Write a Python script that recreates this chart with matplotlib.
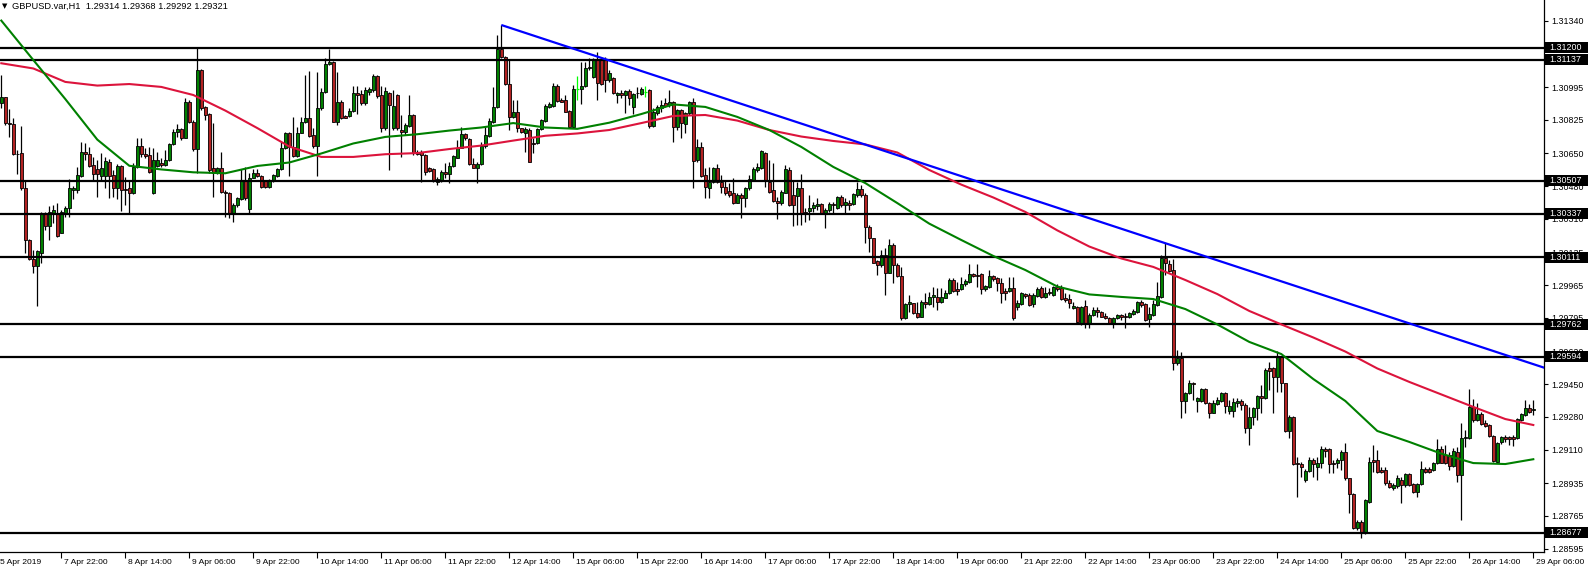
import numpy as np
import matplotlib
matplotlib.use("Agg")
import matplotlib.pyplot as plt
from matplotlib.patches import Rectangle
from matplotlib.transforms import blended_transform_factory

plt.rcParams['font.family'] = ['Liberation Sans', 'DejaVu Sans']

# GBPUSD H1 candles (oldest first)
opens = [
    1.30914, 1.30942, 1.30806, 1.30801, 1.30647, 1.30650, 1.30468, 1.30199, 1.30099, 1.30064,
    1.30134, 1.30335, 1.30272, 1.30338, 1.30338, 1.30238, 1.30338, 1.30369, 1.30460, 1.30460,
    1.30534, 1.30656, 1.30645, 1.30590, 1.30569, 1.30534, 1.30534, 1.30607, 1.30538, 1.30468,
    1.30584, 1.30463, 1.30468, 1.30446, 1.30581, 1.30689, 1.30645, 1.30640, 1.30442, 1.30586,
    1.30602, 1.30590, 1.30616, 1.30697, 1.30760, 1.30777, 1.30732, 1.30916, 1.30815, 1.30671,
    1.31084, 1.30890, 1.30853, 1.30572, 1.30546, 1.30574, 1.30451, 1.30446, 1.30333, 1.30382,
    1.30413, 1.30508, 1.30361, 1.30525, 1.30546, 1.30534, 1.30508, 1.30477, 1.30508, 1.30534,
    1.30567, 1.30676, 1.30754, 1.30685, 1.30637, 1.30758, 1.30812, 1.30832, 1.30746, 1.30690,
    1.30884, 1.30968, 1.31113, 1.31127, 1.30815, 1.30916, 1.30845, 1.30846, 1.30871, 1.30962,
    1.30957, 1.30910, 1.30971, 1.30980, 1.31053, 1.30954, 1.30780, 1.30962, 1.30780, 1.30954,
    1.30772, 1.30763, 1.30794, 1.30850, 1.30659, 1.30659, 1.30642, 1.30572, 1.30569, 1.30503,
    1.30512, 1.30555, 1.30541, 1.30586, 1.30628, 1.30680, 1.30751, 1.30725, 1.30595, 1.30576,
    1.30595, 1.30690, 1.30742, 1.30815, 1.30890, 1.31191, 1.31153, 1.31009, 1.30841, 1.30864,
    1.30780, 1.30754, 1.30772, 1.30706, 1.30702, 1.30777, 1.30819, 1.30893, 1.30898, 1.31001,
    1.30928, 1.30928, 1.30871, 1.30789, 1.30985, 1.30985, 1.31001, 1.31093, 1.31049, 1.31139,
    1.31136, 1.31136, 1.31032, 1.31042, 1.30956, 1.30966, 1.30954, 1.30975, 1.30893, 1.30963,
    1.30959, 1.30971, 1.30980, 1.30794, 1.30859, 1.30885, 1.30914, 1.30902, 1.30919, 1.30789,
    1.30876, 1.30803, 1.30859, 1.30919, 1.30616, 1.30682, 1.30538, 1.30468, 1.30503, 1.30572,
    1.30503, 1.30474, 1.30455, 1.30442, 1.30394, 1.30434, 1.30416, 1.30468, 1.30512, 1.30564,
    1.30572, 1.30654, 1.30503, 1.30460, 1.30402, 1.30390, 1.30446, 1.30564, 1.30434, 1.30428,
    1.30468, 1.30347, 1.30352, 1.30364, 1.30376, 1.30387, 1.30338, 1.30356, 1.30387, 1.30364,
    1.30425, 1.30382, 1.30390, 1.30387, 1.30434, 1.30465, 1.30434, 1.30269, 1.30208, 1.30090,
    1.30069, 1.30121, 1.30030, 1.30174, 1.30069, 1.30014, 1.29792, 1.29867, 1.29870, 1.29821,
    1.29801, 1.29879, 1.29867, 1.29905, 1.29905, 1.29879, 1.29901, 1.29922, 1.29992, 1.29944,
    1.29944, 1.29971, 1.29983, 1.30023, 1.30018, 1.30023, 1.29943, 1.29957, 1.30012, 1.30000,
    1.29974, 1.29936, 1.29936, 1.29948, 1.29853, 1.29867, 1.29918, 1.29914, 1.29867, 1.29908,
    1.29948, 1.29905, 1.29931, 1.29914, 1.29957, 1.29948, 1.29896, 1.29891, 1.29849, 1.29853,
    1.29771, 1.29856, 1.29766, 1.29810, 1.29836, 1.29825, 1.29806, 1.29792, 1.29766, 1.29796,
    1.29810, 1.29806, 1.29801, 1.29815, 1.29825, 1.29879, 1.29867, 1.29787, 1.29810, 1.29862,
    1.29905, 1.30104, 1.30075, 1.30044, 1.29558, 1.29584, 1.29364, 1.29402, 1.29454, 1.29364,
    1.29364, 1.29423, 1.29353, 1.29301, 1.29347, 1.29364, 1.29406, 1.29312, 1.29312, 1.29354,
    1.29364, 1.29342, 1.29220, 1.29281, 1.29324, 1.29389, 1.29376, 1.29533, 1.29533, 1.29489,
    1.29593, 1.29454, 1.29208, 1.29278, 1.29042, 1.29035, 1.28954, 1.29000, 1.29056, 1.29021,
    1.29042, 1.29111, 1.29111, 1.29042, 1.29042, 1.29056, 1.29099, 1.28960, 1.28879, 1.28700,
    1.28735, 1.28674, 1.28839, 1.29056, 1.29056, 1.29004, 1.29004, 1.28937, 1.28908, 1.28920,
    1.28954, 1.28925, 1.28983, 1.28931, 1.28891, 1.28931, 1.29007, 1.29007, 1.29004, 1.29038,
    1.29111, 1.29082, 1.29082, 1.29024, 1.29099, 1.28977, 1.29168, 1.29168, 1.29330, 1.29264,
    1.29295, 1.29246, 1.29238, 1.29180, 1.29047, 1.29151, 1.29177, 1.29174, 1.29174, 1.29168,
    1.29264, 1.29290, 1.29324, 1.29314,
]
highs = [
    1.31058, 1.30945, 1.30879, 1.30832, 1.30668, 1.30793, 1.30512, 1.30203, 1.30147, 1.30150,
    1.30347, 1.30347, 1.30376, 1.30382, 1.30394, 1.30356, 1.30376, 1.30515, 1.30480, 1.30581,
    1.30708, 1.30706, 1.30685, 1.30633, 1.30616, 1.30650, 1.30633, 1.30619, 1.30564, 1.30595,
    1.30590, 1.30529, 1.30508, 1.30598, 1.30732, 1.30732, 1.30676, 1.30685, 1.30680, 1.30659,
    1.30624, 1.30668, 1.30702, 1.30777, 1.30803, 1.30780, 1.30936, 1.30928, 1.30824, 1.31205,
    1.31087, 1.30897, 1.30858, 1.30806, 1.30581, 1.30659, 1.30460, 1.30451, 1.30390, 1.30425,
    1.30567, 1.30581, 1.30546, 1.30567, 1.30567, 1.30538, 1.30512, 1.30515, 1.30541, 1.30572,
    1.30711, 1.30763, 1.30763, 1.30841, 1.30789, 1.30838, 1.31058, 1.31079, 1.30780, 1.31075,
    1.30988, 1.31145, 1.31191, 1.31131, 1.31075, 1.30928, 1.30850, 1.30884, 1.31002, 1.31002,
    1.30980, 1.30997, 1.30997, 1.31061, 1.31058, 1.31002, 1.30997, 1.30971, 1.30980, 1.30957,
    1.30850, 1.30806, 1.30954, 1.30853, 1.30668, 1.30668, 1.30645, 1.30581, 1.30572, 1.30529,
    1.30564, 1.30598, 1.30607, 1.30642, 1.30720, 1.30789, 1.30754, 1.30728, 1.30624, 1.30607,
    1.30711, 1.30789, 1.30832, 1.30997, 1.31266, 1.31318, 1.31158, 1.31136, 1.30928, 1.30928,
    1.30784, 1.30789, 1.30780, 1.30728, 1.30784, 1.30829, 1.30905, 1.30916, 1.31014, 1.31009,
    1.30936, 1.30954, 1.30876, 1.31006, 1.31053, 1.31127, 1.31127, 1.31145, 1.31148, 1.31179,
    1.31153, 1.31153, 1.31084, 1.31050, 1.30971, 1.30980, 1.30980, 1.30983, 1.30963, 1.30997,
    1.30997, 1.31001, 1.30983, 1.30885, 1.30902, 1.30928, 1.30937, 1.30980, 1.30924, 1.30879,
    1.30879, 1.30867, 1.30924, 1.30937, 1.30723, 1.30711, 1.30572, 1.30578, 1.30578, 1.30595,
    1.30538, 1.30512, 1.30494, 1.30520, 1.30442, 1.30442, 1.30477, 1.30538, 1.30578, 1.30598,
    1.30668, 1.30659, 1.30616, 1.30602, 1.30425, 1.30460, 1.30590, 1.30578, 1.30512, 1.30503,
    1.30543, 1.30364, 1.30434, 1.30399, 1.30416, 1.30390, 1.30364, 1.30399, 1.30399, 1.30428,
    1.30434, 1.30416, 1.30408, 1.30442, 1.30503, 1.30486, 1.30442, 1.30278, 1.30213, 1.30095,
    1.30147, 1.30156, 1.30203, 1.30182, 1.30078, 1.30061, 1.29870, 1.29913, 1.29873, 1.29879,
    1.29888, 1.29922, 1.29931, 1.29957, 1.29948, 1.29948, 1.29940, 1.30000, 1.30000, 1.29983,
    1.30009, 1.29995, 1.30075, 1.30030, 1.30075, 1.30026, 1.29966, 1.30044, 1.30018, 1.30006,
    1.30000, 1.29948, 1.30009, 1.30009, 1.29888, 1.29931, 1.29926, 1.29922, 1.29922, 1.29957,
    1.29960, 1.29957, 1.29948, 1.29960, 1.29971, 1.29966, 1.29922, 1.29918, 1.29879, 1.29856,
    1.29856, 1.29888, 1.29818, 1.29853, 1.29853, 1.29832, 1.29818, 1.29798, 1.29798, 1.29815,
    1.29815, 1.29818, 1.29825, 1.29839, 1.29884, 1.29888, 1.29870, 1.29853, 1.29888, 1.29983,
    1.30122, 1.30182, 1.30096, 1.30099, 1.29627, 1.29619, 1.29411, 1.29471, 1.29463, 1.29385,
    1.29428, 1.29428, 1.29359, 1.29367, 1.29385, 1.29411, 1.29411, 1.29368, 1.29376, 1.29376,
    1.29371, 1.29350, 1.29330, 1.29333, 1.29394, 1.29446, 1.29533, 1.29567, 1.29541, 1.29624,
    1.29597, 1.29458, 1.29290, 1.29285, 1.29073, 1.29047, 1.29007, 1.29073, 1.29064, 1.29073,
    1.29128, 1.29125, 1.29116, 1.29056, 1.29064, 1.29108, 1.29146, 1.28965, 1.28882, 1.28743,
    1.28743, 1.28851, 1.29073, 1.29134, 1.29108, 1.29021, 1.29021, 1.28951, 1.28937, 1.28977,
    1.28969, 1.28986, 1.28986, 1.28937, 1.28937, 1.29053, 1.29021, 1.29021, 1.29047, 1.29163,
    1.29128, 1.29134, 1.29099, 1.29116, 1.29125, 1.29246, 1.29212, 1.29423, 1.29371, 1.29350,
    1.29307, 1.29264, 1.29243, 1.29186, 1.29151, 1.29180, 1.29186, 1.29180, 1.29186, 1.29272,
    1.29302, 1.29368, 1.29347, 1.29368,
]
lows = [
    1.30884, 1.30798, 1.30737, 1.30642, 1.30543, 1.30460, 1.30130, 1.30095, 1.30030, 1.29858,
    1.30082, 1.30252, 1.30199, 1.30286, 1.30215, 1.30234, 1.30321, 1.30321, 1.30411, 1.30446,
    1.30530, 1.30616, 1.30581, 1.30512, 1.30425, 1.30512, 1.30468, 1.30420, 1.30425, 1.30411,
    1.30350, 1.30382, 1.30338, 1.30439, 1.30572, 1.30633, 1.30624, 1.30546, 1.30439, 1.30581,
    1.30581, 1.30584, 1.30612, 1.30694, 1.30734, 1.30720, 1.30728, 1.30810, 1.30664, 1.30550,
    1.30876, 1.30824, 1.30546, 1.30425, 1.30543, 1.30446, 1.30321, 1.30312, 1.30295, 1.30373,
    1.30408, 1.30408, 1.30335, 1.30520, 1.30529, 1.30473, 1.30468, 1.30473, 1.30503, 1.30529,
    1.30564, 1.30671, 1.30534, 1.30633, 1.30633, 1.30754, 1.30806, 1.30737, 1.30676, 1.30534,
    1.30876, 1.30962, 1.31110, 1.30812, 1.30798, 1.30829, 1.30832, 1.30841, 1.30864, 1.30853,
    1.30902, 1.30902, 1.30954, 1.30971, 1.30936, 1.30763, 1.30772, 1.30564, 1.30772, 1.30772,
    1.30633, 1.30746, 1.30789, 1.30642, 1.30642, 1.30503, 1.30538, 1.30555, 1.30503, 1.30486,
    1.30503, 1.30520, 1.30494, 1.30581, 1.30624, 1.30676, 1.30720, 1.30590, 1.30572, 1.30494,
    1.30590, 1.30676, 1.30737, 1.30806, 1.30884, 1.31148, 1.31006, 1.30772, 1.30836, 1.30763,
    1.30754, 1.30659, 1.30604, 1.30650, 1.30697, 1.30772, 1.30815, 1.30884, 1.30893, 1.30919,
    1.30916, 1.30864, 1.30784, 1.30784, 1.30928, 1.30905, 1.30997, 1.31084, 1.31040, 1.30928,
    1.31006, 1.30968, 1.31023, 1.30960, 1.30911, 1.30937, 1.30859, 1.30902, 1.30855, 1.30937,
    1.30954, 1.30945, 1.30781, 1.30789, 1.30850, 1.30867, 1.30890, 1.30893, 1.30711, 1.30772,
    1.30728, 1.30755, 1.30850, 1.30468, 1.30607, 1.30529, 1.30416, 1.30416, 1.30494, 1.30494,
    1.30442, 1.30434, 1.30422, 1.30387, 1.30390, 1.30312, 1.30373, 1.30460, 1.30508, 1.30555,
    1.30567, 1.30477, 1.30446, 1.30399, 1.30307, 1.30382, 1.30442, 1.30376, 1.30272, 1.30278,
    1.30278, 1.30295, 1.30304, 1.30347, 1.30356, 1.30335, 1.30260, 1.30347, 1.30338, 1.30359,
    1.30373, 1.30338, 1.30356, 1.30382, 1.30425, 1.30425, 1.30182, 1.30139, 1.30078, 1.30017,
    1.30061, 1.29913, 1.30026, 1.29974, 1.30009, 1.29783, 1.29787, 1.29827, 1.29815, 1.29797,
    1.29798, 1.29844, 1.29862, 1.29853, 1.29836, 1.29870, 1.29896, 1.29918, 1.29931, 1.29914,
    1.29940, 1.29960, 1.29978, 1.30009, 1.29957, 1.29918, 1.29936, 1.29953, 1.29988, 1.29936,
    1.29870, 1.29888, 1.29931, 1.29784, 1.29836, 1.29862, 1.29901, 1.29858, 1.29853, 1.29905,
    1.29901, 1.29901, 1.29914, 1.29908, 1.29936, 1.29888, 1.29879, 1.29844, 1.29839, 1.29766,
    1.29758, 1.29740, 1.29740, 1.29804, 1.29801, 1.29798, 1.29787, 1.29763, 1.29740, 1.29787,
    1.29784, 1.29740, 1.29792, 1.29810, 1.29822, 1.29853, 1.29780, 1.29749, 1.29804, 1.29856,
    1.29901, 1.30018, 1.30035, 1.29523, 1.29550, 1.29272, 1.29298, 1.29399, 1.29367, 1.29307,
    1.29359, 1.29347, 1.29272, 1.29298, 1.29341, 1.29359, 1.29298, 1.29295, 1.29281, 1.29333,
    1.29316, 1.29194, 1.29134, 1.29238, 1.29264, 1.29298, 1.29371, 1.29420, 1.29302, 1.29411,
    1.29411, 1.29203, 1.29168, 1.29030, 1.28865, 1.28969, 1.28943, 1.28995, 1.28969, 1.28954,
    1.29012, 1.29073, 1.28986, 1.28986, 1.29012, 1.29004, 1.28954, 1.28778, 1.28695, 1.28691,
    1.28648, 1.28670, 1.28834, 1.28995, 1.28990, 1.28986, 1.28925, 1.28908, 1.28899, 1.28908,
    1.28834, 1.28917, 1.28920, 1.28886, 1.28865, 1.28925, 1.28986, 1.28986, 1.29000, 1.29035,
    1.29038, 1.29035, 1.29004, 1.29018, 1.28943, 1.28743, 1.29125, 1.29163, 1.29255, 1.29260,
    1.29238, 1.29226, 1.29177, 1.29047, 1.29042, 1.29139, 1.29151, 1.29134, 1.29128, 1.29163,
    1.29260, 1.29285, 1.29302, 1.29292,
]
closes = [
    1.30942, 1.30806, 1.30803, 1.30647, 1.30645, 1.30468, 1.30199, 1.30099, 1.30064, 1.30144,
    1.30335, 1.30272, 1.30347, 1.30356, 1.30220, 1.30347, 1.30369, 1.30468, 1.30473, 1.30538,
    1.30656, 1.30645, 1.30586, 1.30543, 1.30543, 1.30572, 1.30612, 1.30534, 1.30468, 1.30584,
    1.30460, 1.30460, 1.30446, 1.30581, 1.30689, 1.30645, 1.30637, 1.30555, 1.30616, 1.30616,
    1.30590, 1.30616, 1.30697, 1.30760, 1.30777, 1.30732, 1.30916, 1.30815, 1.30671, 1.31084,
    1.30884, 1.30850, 1.30564, 1.30546, 1.30574, 1.30451, 1.30446, 1.30335, 1.30382, 1.30416,
    1.30508, 1.30416, 1.30525, 1.30546, 1.30534, 1.30477, 1.30477, 1.30512, 1.30538, 1.30567,
    1.30676, 1.30754, 1.30685, 1.30637, 1.30758, 1.30812, 1.30832, 1.30741, 1.30690, 1.30884,
    1.30968, 1.31113, 1.31127, 1.30815, 1.30916, 1.30836, 1.30836, 1.30871, 1.30962, 1.30954,
    1.30910, 1.30980, 1.30985, 1.31053, 1.30950, 1.30780, 1.30975, 1.30902, 1.30898, 1.30780,
    1.30763, 1.30798, 1.30850, 1.30650, 1.30645, 1.30642, 1.30555, 1.30558, 1.30508, 1.30517,
    1.30555, 1.30541, 1.30586, 1.30636, 1.30676, 1.30751, 1.30728, 1.30595, 1.30576, 1.30595,
    1.30690, 1.30746, 1.30819, 1.30890, 1.31191, 1.31153, 1.31009, 1.30841, 1.30867, 1.30780,
    1.30760, 1.30777, 1.30607, 1.30699, 1.30777, 1.30824, 1.30898, 1.30905, 1.31001, 1.30924,
    1.30919, 1.30867, 1.30789, 1.30985, 1.30985, 1.31001, 1.31096, 1.31101, 1.31139, 1.31018,
    1.31011, 1.31032, 1.31066, 1.30964, 1.30966, 1.30956, 1.30975, 1.30937, 1.30959, 1.30966,
    1.30983, 1.30971, 1.30794, 1.30867, 1.30890, 1.30902, 1.30897, 1.30919, 1.30789, 1.30876,
    1.30807, 1.30859, 1.30919, 1.30612, 1.30682, 1.30533, 1.30474, 1.30503, 1.30572, 1.30503,
    1.30474, 1.30446, 1.30434, 1.30394, 1.30434, 1.30416, 1.30468, 1.30515, 1.30567, 1.30581,
    1.30663, 1.30507, 1.30451, 1.30404, 1.30394, 1.30451, 1.30567, 1.30382, 1.30382, 1.30468,
    1.30338, 1.30338, 1.30368, 1.30382, 1.30387, 1.30338, 1.30356, 1.30387, 1.30382, 1.30425,
    1.30382, 1.30399, 1.30382, 1.30439, 1.30463, 1.30434, 1.30266, 1.30208, 1.30082, 1.30069,
    1.30121, 1.30030, 1.30174, 1.30069, 1.30014, 1.29797, 1.29867, 1.29879, 1.29821, 1.29801,
    1.29879, 1.29867, 1.29905, 1.29914, 1.29879, 1.29905, 1.29927, 1.29992, 1.29936, 1.29936,
    1.29971, 1.29988, 1.30023, 1.30012, 1.30012, 1.29943, 1.29960, 1.30012, 1.29995, 1.29978,
    1.29927, 1.29927, 1.29948, 1.29792, 1.29870, 1.29922, 1.29908, 1.29862, 1.29914, 1.29943,
    1.29905, 1.29922, 1.29922, 1.29957, 1.29943, 1.29891, 1.29888, 1.29870, 1.29856, 1.29775,
    1.29853, 1.29766, 1.29810, 1.29836, 1.29825, 1.29801, 1.29792, 1.29766, 1.29792, 1.29810,
    1.29798, 1.29801, 1.29818, 1.29832, 1.29879, 1.29862, 1.29784, 1.29815, 1.29867, 1.29908,
    1.30104, 1.30078, 1.30040, 1.29558, 1.29584, 1.29364, 1.29402, 1.29454, 1.29451, 1.29376,
    1.29423, 1.29350, 1.29301, 1.29350, 1.29367, 1.29402, 1.29337, 1.29337, 1.29359, 1.29364,
    1.29340, 1.29220, 1.29281, 1.29324, 1.29389, 1.29376, 1.29524, 1.29520, 1.29489, 1.29593,
    1.29454, 1.29208, 1.29278, 1.29035, 1.29033, 1.29018, 1.29000, 1.29056, 1.29035, 1.29042,
    1.29111, 1.29104, 1.29035, 1.29035, 1.29056, 1.29099, 1.28960, 1.28877, 1.28700, 1.28735,
    1.28674, 1.28848, 1.29047, 1.29047, 1.28995, 1.28995, 1.28934, 1.28917, 1.28925, 1.28960,
    1.28925, 1.28983, 1.28925, 1.28891, 1.28931, 1.29007, 1.28995, 1.28995, 1.29038, 1.29111,
    1.29042, 1.29042, 1.29024, 1.29104, 1.28977, 1.29168, 1.29174, 1.29330, 1.29264, 1.29295,
    1.29243, 1.29232, 1.29180, 1.29053, 1.29146, 1.29177, 1.29163, 1.29163, 1.29163, 1.29267,
    1.29295, 1.29324, 1.29307, 1.29321,
]

# moving averages, read every 8 bars
ma_bars = list(range(0, 384, 8)) + [383]
ma_slow = [
    1.31119, 1.31092, 1.31022, 1.31003, 1.31011, 1.30996, 1.30954, 1.30873, 1.30782, 1.30686,
    1.30632, 1.30632, 1.30646, 1.30652, 1.30673, 1.30691, 1.30717, 1.30742, 1.30754, 1.30772,
    1.30808, 1.30845, 1.30850, 1.30821, 1.30772, 1.30738, 1.30715, 1.30697, 1.30655, 1.30564,
    1.30488, 1.30421, 1.30346, 1.30250, 1.30166, 1.30104, 1.30060, 1.29992, 1.29919, 1.29831,
    1.29761, 1.29693, 1.29620, 1.29532, 1.29462, 1.29397, 1.29332, 1.29269, 1.29238,
]
ma_fast = [
    1.31341, 1.31136, 1.30933, 1.30722, 1.30586, 1.30567, 1.30552, 1.30547, 1.30585, 1.30603,
    1.30650, 1.30702, 1.30736, 1.30750, 1.30769, 1.30785, 1.30808, 1.30785, 1.30778, 1.30810,
    1.30855, 1.30905, 1.30892, 1.30840, 1.30772, 1.30684, 1.30580, 1.30496, 1.30392, 1.30285,
    1.30200, 1.30117, 1.30044, 1.29958, 1.29917, 1.29904, 1.29893, 1.29841, 1.29761, 1.29670,
    1.29607, 1.29477, 1.29363, 1.29207, 1.29150, 1.29089, 1.29040, 1.29035, 1.29060,
]

levels = [1.31200, 1.31137, 1.30507, 1.30337, 1.30111, 1.29762, 1.29594, 1.28677]
trend_bars = [125, 386]
trend_prices = [1.31318, 1.29534]

price_ticks = [1.31340, 1.30995, 1.30825, 1.30650, 1.30480, 1.30310, 1.30135, 1.29965,
               1.29795, 1.29620, 1.29450, 1.29280, 1.29110, 1.28935, 1.28765, 1.28595]
time_labels = ["5 Apr 2019", "7 Apr 22:00", "8 Apr 14:00", "9 Apr 06:00", "9 Apr 22:00",
               "10 Apr 14:00", "11 Apr 06:00", "11 Apr 22:00", "12 Apr 14:00", "15 Apr 06:00",
               "15 Apr 22:00", "16 Apr 14:00", "17 Apr 06:00", "17 Apr 22:00", "18 Apr 14:00",
               "19 Apr 06:00", "21 Apr 22:00", "22 Apr 14:00", "23 Apr 06:00", "23 Apr 22:00",
               "24 Apr 14:00", "25 Apr 06:00", "25 Apr 22:00", "26 Apr 14:00", "29 Apr 06:00"]
time_label_bars = list(range(-1, 384, 16))

header = "GBPUSD.var,H1  1.29314 1.29368 1.29292 1.29321"

# layout in pixels
W, H = 1588, 570
plot_right = 1544
plot_bottom = 552
px = 0.000052  # price per pixel

fig = plt.figure(figsize=(W / 100, H / 100), dpi=100)
ax = fig.add_axes([0, (H - plot_bottom) / H, plot_right / W, plot_bottom / H])
ax.set_xlim(-0.325, 385.675)
ax.set_ylim(1.31448 - plot_bottom * px, 1.31448)

o = np.array(opens)
h = np.array(highs)
l = np.array(lows)
c = np.array(closes)
idx = np.arange(len(o))
up = c > o
dn = c < o
dj = c == o

ax.vlines(idx[~dj], l[~dj], h[~dj], color='black', lw=0.9, zorder=2)
ax.vlines(idx[dj], l[dj], h[dj], color='#00ff00', lw=0.9, zorder=2)
ax.hlines(o[dj], idx[dj] - 0.4, idx[dj] + 0.4, color='#00ff00', lw=0.9, zorder=2)
ax.bar(idx[up], (c - o)[up], bottom=o[up], width=0.78, color='#008000',
       edgecolor='black', lw=0.6, zorder=3)
ax.bar(idx[dn], (o - c)[dn], bottom=c[dn], width=0.78, color='#b22222',
       edgecolor='black', lw=0.6, zorder=3)

ax.plot(ma_bars, ma_slow, color='#dc143c', lw=1.5, zorder=5)
ax.plot(ma_bars, ma_fast, color='#008000', lw=1.5, zorder=5)
ax.plot(trend_bars, trend_prices, color='#0000ff', lw=1.6, zorder=6, solid_capstyle='butt')
for lv in levels:
    ax.axhline(lv, color='black', lw=1.6, zorder=4)

for s in ['top', 'left']:
    ax.spines[s].set_visible(False)
for s in ['right', 'bottom']:
    ax.spines[s].set_linewidth(0.9)

ax.yaxis.tick_right()
ax.set_yticks(price_ticks)
ax.set_yticklabels(['%.5f' % t for t in price_ticks])
ax.tick_params(axis='y', length=3, width=0.8, pad=2, labelsize=6.4)

ax.set_xticks([b for b in time_label_bars if b >= 0])
ax.set_xticklabels([])
ax.tick_params(axis='x', length=4, width=0.8)
xform = blended_transform_factory(ax.transData, ax.transAxes)
for b, lab in zip(time_label_bars, time_labels):
    ax.text(b + 0.75, -10 / plot_bottom, lab, transform=xform, ha='left', va='center',
            fontsize=6.1, clip_on=False)

# price labels for the horizontal levels
bt = blended_transform_factory(fig.transFigure, ax.transData)
for lv in levels:
    ax.add_patch(Rectangle((1545 / W, lv - 5.5 * px), 43 / W, 11 * px, transform=bt,
                           facecolor='black', edgecolor='none', clip_on=False, zorder=10))
    ax.text(1549 / W, lv, '%.5f' % lv, transform=bt, color='white', ha='left', va='center',
            fontsize=6.4, clip_on=False, zorder=11)

fig.text(2 / W, 1 - 6 / H, '\u25bc', fontsize=5, va='center', family='DejaVu Sans')
fig.text(12 / W, 1 - 6 / H, header, fontsize=6.7, va='center')

fig.savefig('out.png', dpi=100)
